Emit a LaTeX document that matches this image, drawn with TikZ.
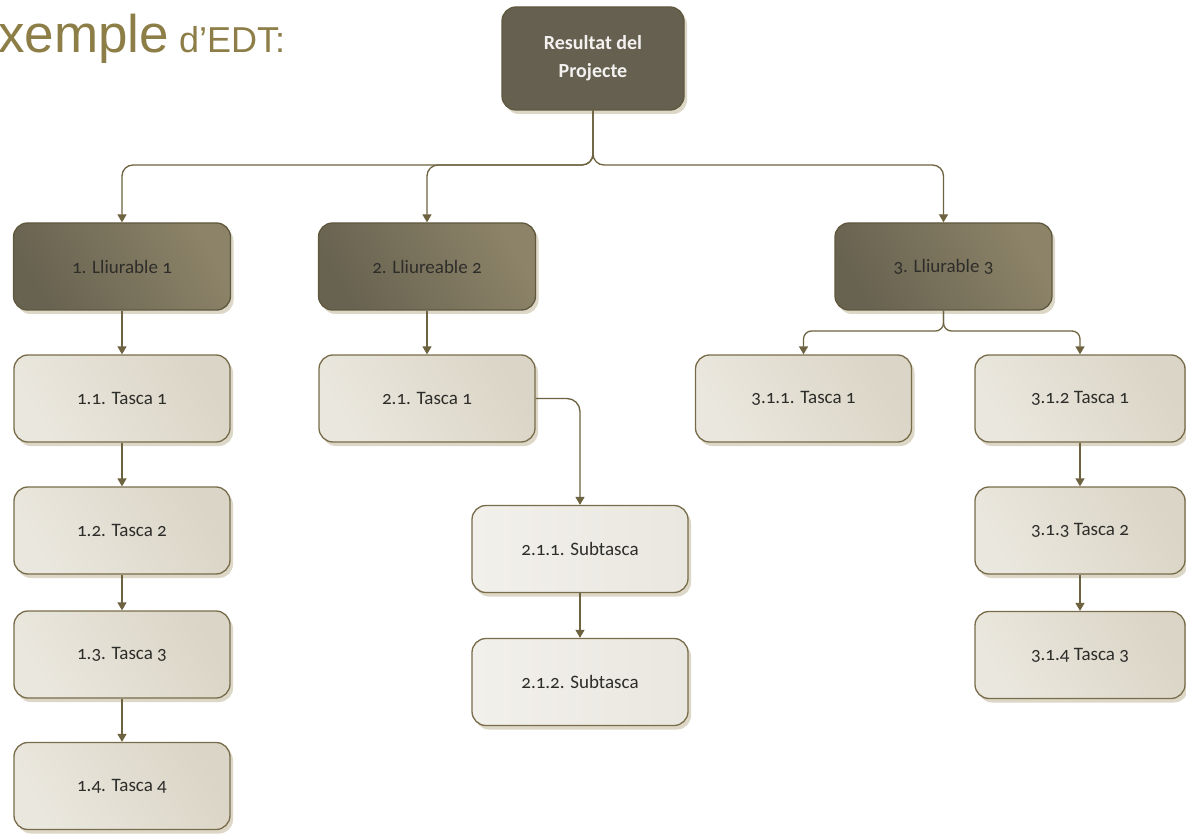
\documentclass[tikz,border=0pt]{standalone}
\usepackage{fontspec}
\setmainfont{Carlito}[Numbers=OldStyle]
\newfontfamily\titlefont{Liberation Sans}
\usetikzlibrary{arrows.meta,shadows,calc}
\definecolor{linec}{RGB}{110,99,64}
\definecolor{darkA}{RGB}{104,98,80}
\definecolor{darkB}{RGB}{140,131,104}
\definecolor{darkBorder}{RGB}{96,88,62}
\definecolor{topfill}{RGB}{102,96,80}
\definecolor{lightA}{RGB}{234,231,222}
\definecolor{lightB}{RGB}{218,213,198}
\definecolor{lightBorder}{RGB}{120,108,74}
\definecolor{paleA}{RGB}{242,240,235}
\definecolor{paleB}{RGB}{234,231,224}
\definecolor{shadowc}{RGB}{220,215,198}
\definecolor{titlec}{RGB}{140,126,70}
\definecolor{txtc}{RGB}{45,45,42}
\tikzset{
  basebox/.style={rounded corners=14pt, line width=1.3pt, inner sep=0pt,
    drop shadow={shadow xshift=3pt, shadow yshift=-4pt, fill=shadowc, opacity=1},
    font=\fontsize{19}{21}\selectfont, text=txtc},
  topbox/.style={basebox, draw=darkBorder, fill=topfill, text=white!92!topfill,
    minimum width=182pt, minimum height=103pt, align=center,
    font=\bfseries\fontsize{20}{28}\selectfont},
  darkbox/.style={basebox, draw=darkBorder, left color=darkA, right color=darkB,
    shading angle=120, minimum width=217pt, minimum height=87pt},
  lightbox/.style={basebox, draw=lightBorder, left color=lightA, right color=lightB,
    shading angle=120, minimum width=216pt, minimum height=87pt},
  palebox/.style={basebox, draw=lightBorder, left color=paleA, right color=paleB,
    minimum width=216pt, minimum height=87pt},
  conn/.style={draw=linec, line width=1.3pt,
    -{Triangle[width=9pt,length=8pt]}},
  brace/.style={conn, rounded corners=11pt},
}
\begin{document}
\begin{tikzpicture}[x=1pt,y=-1pt]
\useasboundingbox[fill=white] (0,0) rectangle (1186,834);
% title
\node[anchor=base west, inner sep=0pt, text=titlec] (title) at (-2,53)
  {\titlefont\fontsize{53}{53}\selectfont xemple\fontsize{36}{36}\selectfont\ d’EDT:};
% nodes
\node[topbox] (top) at (593,58.5) {Resultat del\\Projecte};
\node[darkbox] (L1) at (122,266.5) {1. Lliurable 1};
\node[darkbox] (L2) at (427,266.5) {2. Lliureable 2};
\node[darkbox] (L3) at (943.5,266.5) {3. Lliurable 3};
\node[lightbox] (T11) at (122,398.5) {1.1. Tasca 1};
\node[lightbox] (T12) at (122,530.5) {1.2. Tasca 2};
\node[lightbox] (T13) at (122,654.5) {1.3. Tasca 3};
\node[lightbox] (T14) at (122,786) {1.4. Tasca 4};
\node[lightbox] (T21) at (427,398.5) {2.1. Tasca 1};
\node[palebox] (S211) at (580,549) {2.1.1. Subtasca};
\node[palebox] (S212) at (580,682) {2.1.2. Subtasca};
\node[lightbox] (T311) at (803.5,398.5) {3.1.1. Tasca 1};
\node[lightbox, minimum width=210pt] (T312) at (1080,398.5) {3.1.2 Tasca 1};
\node[lightbox, minimum width=210pt] (T313) at (1080,530.5) {3.1.3 Tasca 2};
\node[lightbox, minimum width=210pt] (T314) at (1080,655) {3.1.4 Tasca 3};
% junction levels
\coordinate (h0) at (0,165);
\coordinate (h3) at (0,331);
% connectors
\draw[brace] (top.south) |- (h0 -| L1.north) -- (L1.north);
\draw[brace] (top.south) |- (h0 -| L2.north) -- (L2.north);
\draw[brace] (top.south) |- (h0 -| L3.north) -- (L3.north);
\draw[conn] (L1.south) -- (T11.north);
\draw[conn] (T11.south) -- (T12.north);
\draw[conn] (T12.south) -- (T13.north);
\draw[conn] (T13.south) -- (T14.north);
\draw[conn] (L2.south) -- (T21.north);
\draw[brace, rounded corners=13pt] (T21.east) -| (S211.north);
\draw[conn] (S211.south) -- (S212.north);
\draw[brace, rounded corners=8pt] (L3.south) |- (h3 -| T311.north) -- (T311.north);
\draw[brace, rounded corners=8pt] (L3.south) |- (h3 -| T312.north) -- (T312.north);
\draw[conn] (T312.south) -- (T313.north);
\draw[conn] (T313.south) -- (T314.north);
\end{tikzpicture}
\end{document}
